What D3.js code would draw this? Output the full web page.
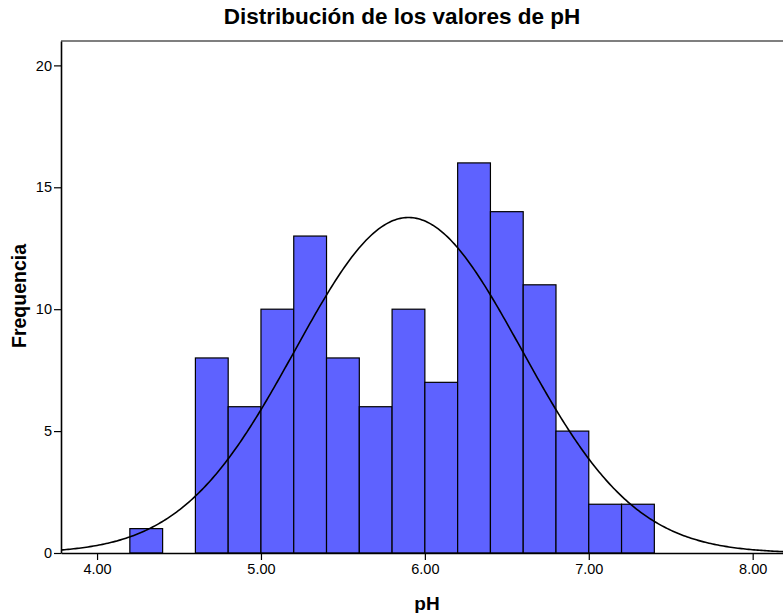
<!DOCTYPE html>
<html>
<head>
<meta charset="utf-8">
<script src="https://cdn.jsdelivr.net/npm/d3@7"></script>
<style>
body { margin: 0; background: #fff; }
text { font-family: "Liberation Sans", Arial, sans-serif; }
</style>
</head>
<body>
<div class="main"></div>
<script>
// histogram bins (pH) and counts
var binStart = [4.2, 4.4, 4.6, 4.8, 5.0, 5.2, 5.4, 5.6, 5.8, 6.0, 6.2, 6.4, 6.6, 6.8, 7.0, 7.2];
var counts   = [1,   0,   8,   6,   10,  13,  8,   6,   10,  7,   16,  14,  11,  5,   2,   2];
var binWidth = 0.2;
var xTicks = [4, 5, 6, 7, 8];
var yTicks = [0, 5, 10, 15, 20];
// fitted normal curve parameters
var mean = 5.90, sd = 0.69;

var W = 783, H = 613;
var margin = {top: 41, right: 0, bottom: 60, left: 61},
    width = W - margin.left - margin.right,
    height = 553 - margin.top;

var svg = d3.select(".main").append("svg")
  .attr("width", W).attr("height", H)
  .append("g")
  .attr("transform", "translate(" + margin.left + "," + margin.top + ")");

var x = d3.scaleLinear().domain([3.78, 8.185]).range([0, width]);
var y = d3.scaleLinear().domain([0, 21.0]).range([height, 0]);

var bins = binStart.map(function(b, i) { return {x0: b, x1: b + binWidth, n: counts[i]}; })
  .filter(function(d) { return d.n > 0; });

svg.selectAll(".bar").data(bins).enter().append("rect")
  .attr("class", "bar")
  .attr("x", function(d) { return x(d.x0); })
  .attr("width", function(d) { return x(d.x1) - x(d.x0); })
  .attr("y", function(d) { return y(d.n); })
  .attr("height", function(d) { return y(0) - y(d.n); })
  .style("fill", "#5e62ff")
  .style("stroke", "#000")
  .style("stroke-width", 1.2);

// normal curve scaled to counts
var total = d3.sum(counts);
var pts = d3.range(0, 401).map(function(i) {
  var xv = 3.78 + i * (8.185 - 3.78) / 400;
  var z = (xv - mean) / sd;
  return [xv, total * binWidth * Math.exp(-0.5 * z * z) / (sd * Math.sqrt(2 * Math.PI))];
});
svg.append("path")
  .attr("d", d3.line().x(function(d) { return x(d[0]); }).y(function(d) { return y(d[1]); })(pts))
  .style("fill", "none").style("stroke", "#000").style("stroke-width", 1.6);

// frame
svg.append("line").attr("x1", 0).attr("x2", width).attr("y1", 0).attr("y2", 0)
  .style("stroke", "#000").style("stroke-width", 1.2);

var xAxis = d3.axisBottom(x).tickValues(xTicks).tickFormat(d3.format(".2f")).tickSize(7).tickSizeOuter(0).tickPadding(4);
var yAxis = d3.axisLeft(y).tickValues(yTicks).tickSize(7).tickSizeOuter(0).tickPadding(2);

var gx = svg.append("g").attr("transform", "translate(0," + height + ")").call(xAxis);
var gy = svg.append("g").call(yAxis);
[gx, gy].forEach(function(g) {
  g.select(".domain").style("stroke", "#000").style("stroke-width", 1.6);
  g.selectAll(".tick line").style("stroke", "#000").style("stroke-width", 1.2);
  g.selectAll("text").style("font-family", "'Liberation Sans', Arial, sans-serif")
    .style("font-size", "14.5px").style("fill", "#000");
});

// titles
d3.select("svg").append("text")
  .attr("x", 402).attr("y", 24).attr("text-anchor", "middle")
  .style("font-size", "22.5px").style("font-weight", "bold")
  .text("Distribución de los valores de pH");

d3.select("svg").append("text")
  .attr("x", 427).attr("y", 610).attr("text-anchor", "middle")
  .style("font-size", "19px").style("font-weight", "bold")
  .text("pH");

d3.select("svg").append("text")
  .attr("transform", "translate(26,296) rotate(-90)")
  .attr("text-anchor", "middle")
  .style("font-size", "19.5px").style("font-weight", "bold")
  .text("Frequencia");
</script>
</body>
</html>
